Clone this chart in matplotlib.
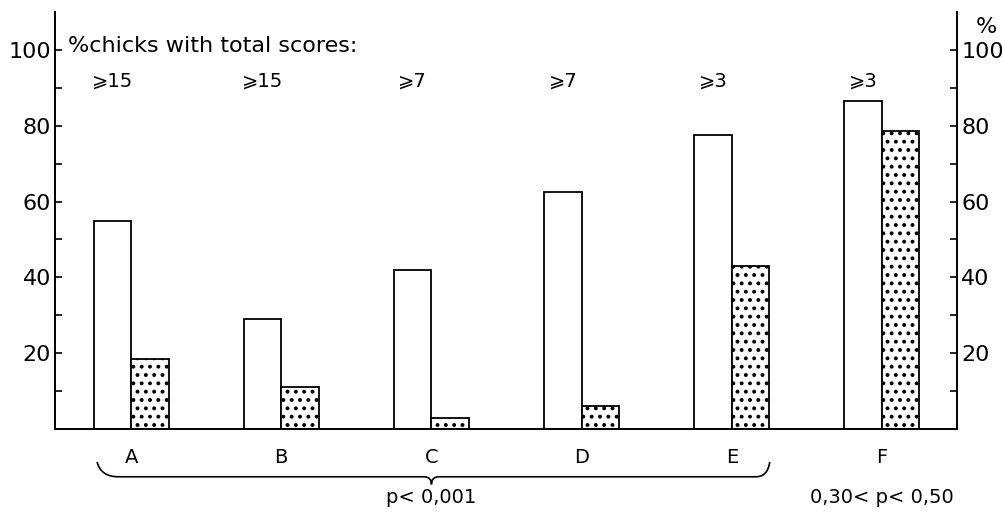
import matplotlib
matplotlib.use("Agg")
import matplotlib.pyplot as plt
import numpy as np
from matplotlib.path import Path
from matplotlib.patches import PathPatch

plt.rcParams['font.family'] = ['DejaVu Sans']
plt.rcParams['hatch.linewidth'] = 1.6

# data
groups = ['A', 'B', 'C', 'D', 'E', 'F']
thresholds = ['⩾15', '⩾15', '⩾7', '⩾7', '⩾3', '⩾3']
open_vals = [55, 29, 42, 62.5, 77.5, 86.5]
dotted_vals = [18.5, 11, 3, 6, 43, 78.5]
yticks = [20, 40, 60, 80, 100]

fig = plt.figure(figsize=(10.03, 5.22), dpi=100)
ax = fig.add_axes([55/1003, 93/522, (957-55)/1003, (429-12)/522])

x = np.arange(len(groups))
w = 0.25
ax.bar(x - w/2, open_vals, w, color='white', edgecolor='black', linewidth=1.3)
ax.bar(x + w/2, dotted_vals, w, color='white', edgecolor='black', linewidth=1.3, hatch='..')

ax.set_xlim(-0.507, 5.5)
ax.set_ylim(0, 110)
ax.spines['top'].set_visible(False)
for s in ['left', 'right', 'bottom']:
    ax.spines[s].set_linewidth(1.4)
ax.set_xticks([])
ax.set_yticks(yticks)
ax.set_yticks(range(10, 100, 20), minor=True)
ax.tick_params(axis='y', which='both', direction='in', length=5, width=1.2,
               left=True, right=True, labelleft=True, labelright=True,
               labelsize=16)
for t in ax.yaxis.get_major_ticks():
    t.set_pad(3)

ax.text(-0.42, 101, '%chicks with total scores:', fontsize=16, va='center', ha='left')
ax.text(5.627, 106, '%', fontsize=16, va='center', ha='left')

for i, th in enumerate(thresholds):
    ax.text(x[i] - w/2, 91.8, th, fontsize=14, ha='center', va='center')
for i, g in enumerate(groups):
    ax.text(x[i], -7.4, g, fontsize=14, ha='center', va='center', clip_on=False)

# brace under A..E
verts = [(-0.227, -8.7), (-0.20, -12.6), (-0.087, -12.6),
         (1.95, -12.6), (2.0, -12.6), (2.0, -14.6),
         (2.0, -12.6), (2.05, -12.6), (4.16, -12.6),
         (4.24, -12.6), (4.253, -8.7)]
codes = [Path.MOVETO, Path.CURVE3, Path.CURVE3,
         Path.LINETO, Path.CURVE3, Path.CURVE3,
         Path.CURVE3, Path.CURVE3, Path.LINETO,
         Path.CURVE3, Path.CURVE3]
ax.add_patch(PathPatch(Path(verts, codes), fill=False, lw=1.2, clip_on=False))

ax.text(2.0, -18.2, 'p< 0,001', fontsize=14, ha='center', va='center', clip_on=False)
ax.text(5.0, -18.2, '0,30< p< 0,50', fontsize=14, ha='center', va='center', clip_on=False)

fig.savefig('out.png', dpi=100)
